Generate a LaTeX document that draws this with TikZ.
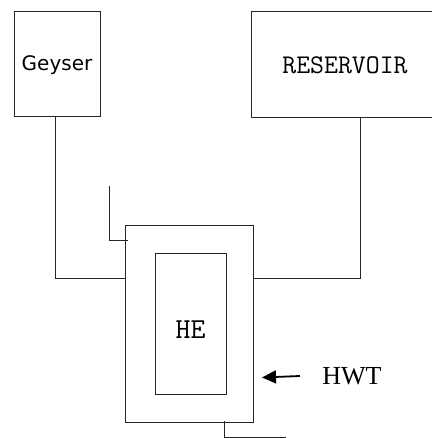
\documentclass[tikz,border=0pt]{standalone}
\usepackage{fontspec}
\setmainfont{Liberation Serif}
\newfontfamily\geyfont{DejaVu Sans}
\usetikzlibrary{arrows.meta}
\tikzset{
  boxline/.style={draw=black!85, line width=0.9pt},
  pipe/.style={draw=black!85, line width=0.9pt},
  lbl/.style={inner sep=0pt, anchor=center}
}
\begin{document}
\begin{tikzpicture}[x=1pt,y=-1pt]
\useasboundingbox (0,0) rectangle (431,438);
% boxes
\draw[boxline] (14,11) rectangle (100,116);
\node[lbl, font=\geyfont\fontsize{20}{22}\selectfont] (gey) at (57,65) {Geyser};
\coordinate (geyb) at (55,116);
\draw[boxline] (251,11) -- (440,11);
\draw[boxline] (251,117) -- (440,117);
\draw[boxline] (251,11) -- (251,117);
\node[lbl, font=\ttfamily\fontsize{27}{30}\selectfont] (res) at (345,65) {RESERVOIR};
\coordinate (resb) at (360,117);
% outer tank
\draw[boxline] (125,225) rectangle (253,422);
% inner HE
\draw[boxline] (155,253) rectangle (226,394);
\node[lbl, font=\ttfamily\fontsize{29}{30}\selectfont] (he) at (190.5,330) {HE};
% pipes
\coordinate (gl) at (125,278);
\coordinate (rl) at (253,278);
\draw[pipe] (geyb) |- (gl);
\draw[pipe] (resb) |- (rl);
\coordinate (st) at (109,186);
\coordinate (se) at (128,240);
\draw[pipe] (st) |- (se);
\coordinate (bt) at (224,421);
\coordinate (be) at (286,437);
\draw[pipe] (bt) |- (be);
% arrow and label
\node[lbl, font=\fontsize{26}{28}\selectfont] (hwt) at (352,376) {HWT};
\coordinate (at) at (300,376);
\coordinate (ah) at (262,377.5);
\draw[line width=1.8pt, -{Triangle[length=14pt,width=13pt,fill=black]}] (at) -- (ah);
\end{tikzpicture}
\end{document}
